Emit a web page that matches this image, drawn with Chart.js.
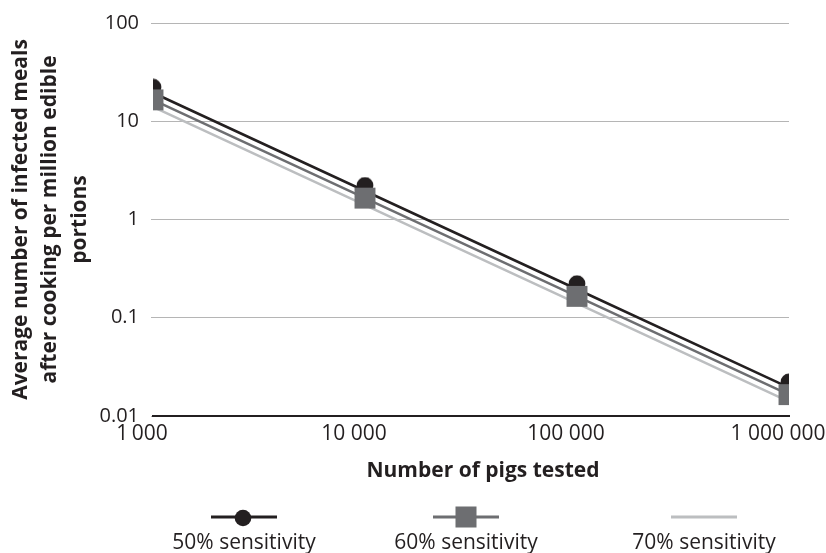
<!DOCTYPE html>
<html><head><meta charset="utf-8">
<script src="https://cdn.jsdelivr.net/npm/chart.js@4.4.1/dist/chart.umd.min.js"></script>
<style>html,body{margin:0;padding:0;background:#fff;}#wrap{width:826px;height:553px;}</style>
</head><body><div id="wrap"><canvas id="c" width="826" height="553"></canvas></div>
<script>
// ---- data ----
const pigsTested = [1000, 10000, 100000, 1000000];
const xTickLabels = ['1\u2009000', '10 000', '100 000', '1 000 000'];
const yTickValues = [0.01, 0.1, 1, 10, 100];
const yTickLabels = ['0.01', '0.1', '1', '10', '100'];
const seriesNames = ['50% sensitivity', '60% sensitivity', '70% sensitivity'];
const sens50 = [19.5, 1.95, 0.195, 0.0195];
const sens60 = [16.5, 1.65, 0.165, 0.0165];
const sens70 = [14, 1.4, 0.14, 0.014];
const xTitle = 'Number of pigs tested';
const yTitle = ['Average number of infected meals', 'after cooking per million edible', 'portions'];

// ---- styles ----
const C_BLACK = '#231f20', C_GRAY = '#6d6e71', C_LIGHT = '#bcbec0', C_GRID = '#b5b5b5';
const FONT = "'Open Sans', 'Noto Sans', sans-serif";

// circle marker drawn slightly above the line point (as in the original figure)
const circleImg = document.createElement('canvas');
circleImg.width = 18; circleImg.height = 29;
(function(){ const g = circleImg.getContext('2d'); g.fillStyle = C_BLACK; g.beginPath(); g.arc(9, 9, 8.4, 0, Math.PI*2); g.fill(); })();

const extras = {
  id: 'extras',
  afterDraw(chart) {
    const ctx = chart.ctx;
    ctx.save();
    ctx.fillStyle = C_BLACK;
    ctx.font = "bold 21px " + FONT;
    ctx.textAlign = 'center';
    ctx.textBaseline = 'alphabetic';
    ctx.fillText(xTitle, 483, 477);
    // legend
    const cxs = [244, 466, 704];
    const ds = chart.data.datasets;
    ctx.font = "21px " + FONT;
    for (let i = 0; i < 3; i++) {
      const cx = cxs[i], ly = 517;
      ctx.strokeStyle = ds[i].borderColor;
      ctx.lineWidth = 3;
      ctx.beginPath(); ctx.moveTo(cx - 33, ly); ctx.lineTo(cx + 33, ly); ctx.stroke();
      if (i === 0) {
        ctx.fillStyle = C_BLACK; ctx.beginPath(); ctx.arc(cx - 1, ly + 1, 8.3, 0, Math.PI*2); ctx.fill();
      } else if (i === 1) {
        ctx.fillStyle = C_GRAY; ctx.fillRect(cx - 10.5, ly - 10.5, 21, 21);
      }
      ctx.fillStyle = C_BLACK;
      ctx.fillText(seriesNames[i], cx, 549);
    }
    ctx.restore();
  }
};

new Chart(document.getElementById('c'), {
  type: 'line',
  data: {
    datasets: [
      { label: seriesNames[0], data: pigsTested.map((x, i) => ({x, y: sens50[i]})),
        borderColor: C_BLACK, borderWidth: 2.5, pointStyle: circleImg, pointRadius: 9, order: 1 },
      { label: seriesNames[1], data: pigsTested.map((x, i) => ({x, y: sens60[i]})),
        borderColor: C_GRAY, borderWidth: 2.5, pointStyle: 'rect', pointRadius: 14.8,
        pointBackgroundColor: C_GRAY, pointBorderWidth: 0, order: 0 },
      { label: seriesNames[2], data: pigsTested.map((x, i) => ({x, y: sens70[i]})),
        borderColor: C_LIGHT, borderWidth: 2.5, pointRadius: 0, order: 2 }
    ]
  },
  options: {
    responsive: false,
    animation: false,
    events: [],
    layout: { padding: { left: 0, right: 37, top: 23, bottom: 0 } },
    elements: { line: { tension: 0, fill: false } },
    plugins: { legend: { display: false }, tooltip: { enabled: false } },
    scales: {
      x: {
        type: 'logarithmic', min: 1000, max: 1000000,
        afterBuildTicks: s => { s.ticks = pigsTested.map(v => ({value: v})); },
        afterFit: s => { s.height = 137; s.paddingLeft = 0; s.paddingRight = 0; },
        grid: { display: false, drawTicks: false },
        border: { display: true, color: C_BLACK, width: 2 },
        ticks: { color: C_BLACK, font: { family: FONT, size: 21 }, padding: 5, labelOffset: -11,
          maxRotation: 0, autoSkip: false, callback: (v, i) => xTickLabels[i] },
        title: { display: false }
      },
      y: {
        type: 'logarithmic', min: 0.01, max: 100,
        afterBuildTicks: s => { s.ticks = yTickValues.map(v => ({value: v})); },
        afterFit: s => { s.width = 153; s.paddingTop = 0; s.paddingBottom = 0; },
        grid: { color: C_GRID, lineWidth: 1, tickLength: 2, drawTicks: true },
        border: { display: false },
        ticks: { color: C_BLACK, font: { family: FONT, size: 20 }, padding: 12, autoSkip: false,
          callback: (v, i) => yTickLabels[i] },
        title: { display: true, text: yTitle, color: C_BLACK,
          font: { family: FONT, size: 21, weight: 'bold', lineHeight: 1.405 }, padding: { top: 6, bottom: 0 } }
      }
    }
  },
  plugins: [extras]
});
</script></body></html>
